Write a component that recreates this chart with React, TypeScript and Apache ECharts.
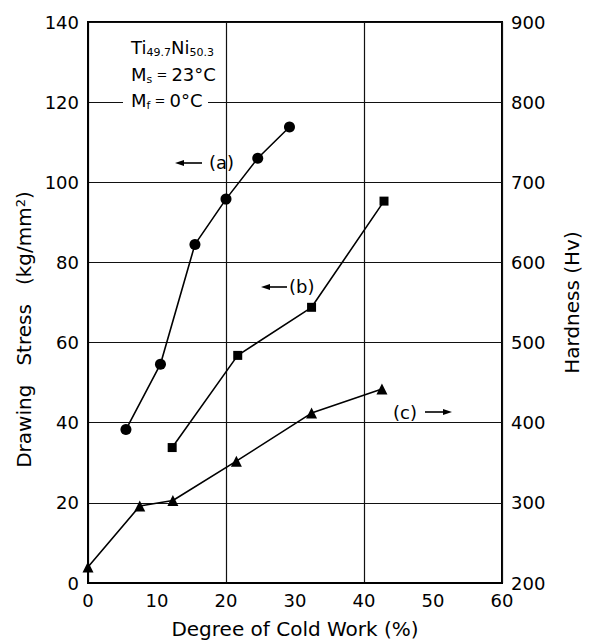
import React, { useEffect, useRef } from "react";
import * as echarts from "echarts";

// Curve (a): drawing stress (left axis), circles
const curveA: [number, number][] = [
  [5.5, 38.3],
  [10.5, 54.6],
  [15.5, 84.5],
  [20.0, 95.8],
  [24.6, 106.0],
  [29.2, 113.8],
];
// Curve (b): drawing stress (left axis), squares
const curveB: [number, number][] = [
  [12.2, 33.8],
  [21.7, 56.8],
  [32.4, 68.8],
  [42.9, 95.3],
];
// Curve (c): hardness (right axis), triangles
const curveC: [number, number][] = [
  [0, 220],
  [7.5, 296],
  [12.3, 303],
  [21.5, 352],
  [32.4, 412],
  [42.6, 442],
];

const FONT = "DejaVu Sans";

export default function App() {
  const ref = useRef<HTMLDivElement>(null);
  useEffect(() => {
    if (!ref.current) return;
    const chart = echarts.init(ref.current, undefined, { renderer: "svg" });
    const lineStyle = { color: "#000", width: 1.6 };
    const tickText = { color: "#000", fontSize: 18, fontFamily: FONT };
    const legendRich = {
      n: { fontSize: 18, fontFamily: FONT, fill: "#000", lineHeight: 22 },
      e: { fontSize: 13, fontFamily: FONT, fill: "#000", lineHeight: 22 },
      s: { fontSize: 11, fontFamily: FONT, fill: "#000", lineHeight: 11, verticalAlign: "bottom" },
    };
    const option: any = {
      animation: false,
      backgroundColor: "#fff",
      grid: {
        left: 88,
        right: 86,
        top: 22,
        bottom: 57,
        show: true,
        borderColor: "#000",
        borderWidth: 2,
        backgroundColor: "transparent",
      },
      xAxis: [
        {
          type: "value",
          min: 0,
          max: 60,
          interval: 10,
          name: "Degree of Cold Work (%)",
          nameLocation: "middle",
          nameGap: 36,
          nameTextStyle: { color: "#000", fontSize: 20, fontFamily: FONT },
          axisLine: { show: true, lineStyle: { color: "#000", width: 2 } },
          axisTick: { show: false },
          axisLabel: { ...tickText, margin: 8 },
          splitLine: { show: false },
        },
        {
          type: "value",
          min: 0,
          max: 60,
          interval: 20,
          position: "bottom",
          axisLine: { show: false },
          axisTick: { show: false },
          axisLabel: { show: false },
          splitLine: { show: true, lineStyle: { color: "#111", width: 1.2 } },
        },
      ],
      yAxis: [
        {
          type: "value",
          min: 0,
          max: 140,
          interval: 20,
          position: "left",
          name: "Drawing   Stress   (kg/mm{sup|2})",
          nameLocation: "middle",
          nameGap: 48,
          nameTextStyle: {
            color: "#000",
            fontSize: 20,
            fontFamily: FONT,
            padding: [0, 54, 0, 0],
            rich: {
              sup: { fontSize: 13, fontFamily: FONT, color: "#000", verticalAlign: "top", lineHeight: 13 },
            },
          },
          axisLine: { show: true, lineStyle: { color: "#000", width: 2 } },
          axisTick: { show: false },
          axisLabel: { ...tickText, margin: 9 },
          splitLine: { show: true, lineStyle: { color: "#111", width: 1.2 } },
        },
        {
          type: "value",
          min: 200,
          max: 900,
          interval: 100,
          position: "right",
          name: "Hardness (Hv)",
          nameLocation: "middle",
          nameGap: 60,
          nameTextStyle: { color: "#000", fontSize: 20, fontFamily: FONT },
          axisLine: { show: true, lineStyle: { color: "#000", width: 2 } },
          axisTick: { show: false },
          axisLabel: { ...tickText, margin: 9 },
          splitLine: { show: false },
        },
      ],
      series: [
        {
          name: "(a)",
          type: "line",
          xAxisIndex: 0,
          yAxisIndex: 0,
          data: curveA,
          symbol: "circle",
          symbolSize: 11,
          itemStyle: { color: "#000" },
          lineStyle,
        },
        {
          name: "(b)",
          type: "line",
          xAxisIndex: 0,
          yAxisIndex: 0,
          data: curveB,
          symbol: "rect",
          symbolSize: 9,
          itemStyle: { color: "#000" },
          lineStyle,
        },
        {
          name: "(c)",
          type: "line",
          xAxisIndex: 0,
          yAxisIndex: 1,
          data: curveC,
          symbol: "triangle",
          symbolSize: 11,
          itemStyle: { color: "#000" },
          lineStyle,
        },
      ],
      graphic: [
        // white patch behind the Mf row
        { type: "rect", shape: { x: 123, y: 92, width: 85, height: 16 }, style: { fill: "#fff" }, z: 10 },
        {
          type: "text",
          x: 131,
          y: 47,
          z: 11,
          style: { text: "{n|Ti}{s|49.7}{n|Ni}{s|50.3}", verticalAlign: "middle", rich: legendRich },
        },
        {
          type: "text",
          x: 131,
          y: 74,
          z: 11,
          style: { text: "{n|M}{s|s}{e| = }{n|23°C}", verticalAlign: "middle", rich: legendRich },
        },
        {
          type: "text",
          x: 131,
          y: 100,
          z: 11,
          style: { text: "{n|M}{s|f}{e| = }{n|0°C}", verticalAlign: "middle", rich: legendRich },
        },
        // (a) annotation
        { type: "line", shape: { x1: 180, y1: 163, x2: 202, y2: 163 }, style: { stroke: "#000", lineWidth: 1.6 }, z: 11 },
        { type: "polygon", shape: { points: [[175, 163], [184, 160], [184, 166]] }, style: { fill: "#000" }, z: 11 },
        { type: "text", x: 209, y: 162, z: 11, style: { text: "(a)", fontSize: 18, fontFamily: FONT, fill: "#000", verticalAlign: "middle" } },
        // (b) annotation
        { type: "line", shape: { x1: 266, y1: 287, x2: 287, y2: 287 }, style: { stroke: "#000", lineWidth: 1.6 }, z: 11 },
        { type: "polygon", shape: { points: [[261, 287], [270, 284], [270, 290]] }, style: { fill: "#000" }, z: 11 },
        { type: "text", x: 289, y: 286, z: 11, style: { text: "(b)", fontSize: 18, fontFamily: FONT, fill: "#000", verticalAlign: "middle" } },
        // (c) annotation
        { type: "text", x: 393, y: 412, z: 11, style: { text: "(c)", fontSize: 18, fontFamily: FONT, fill: "#000", verticalAlign: "middle" } },
        { type: "line", shape: { x1: 425, y1: 412, x2: 447, y2: 412 }, style: { stroke: "#000", lineWidth: 1.6 }, z: 11 },
        { type: "polygon", shape: { points: [[452, 412], [443, 409], [443, 415]] }, style: { fill: "#000" }, z: 11 },
      ],
    };
    chart.setOption(option);
    return () => chart.dispose();
  }, []);
  return <div ref={ref} style={{ width: 590, height: 644, position: "absolute", left: 0, top: 0 }} />;
}
